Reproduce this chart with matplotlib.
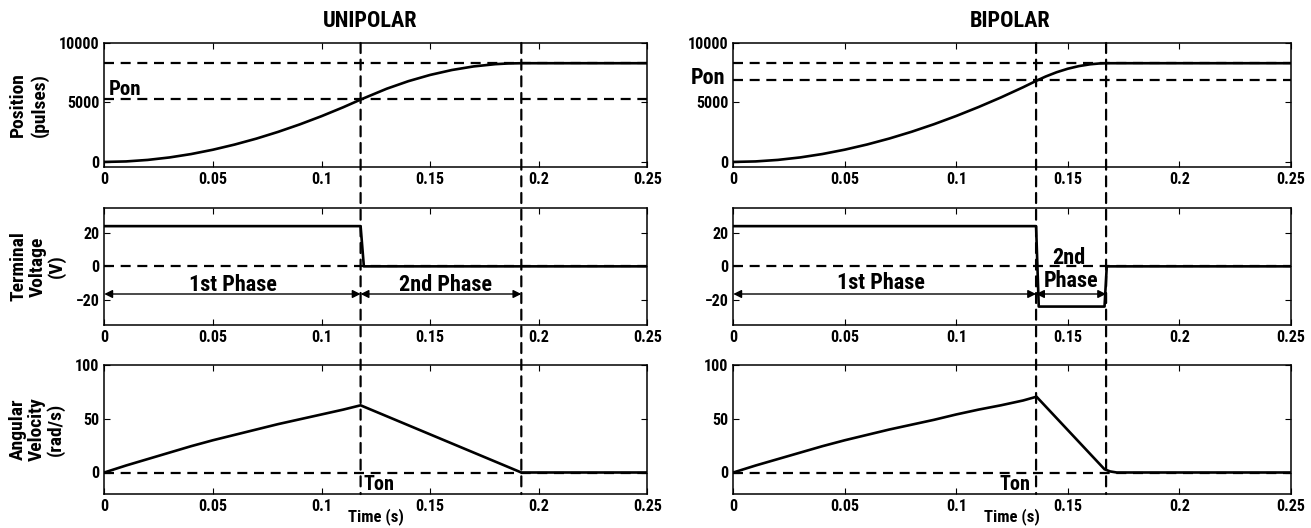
import matplotlib
matplotlib.use("Agg")
import matplotlib.pyplot as plt
from matplotlib.patches import ConnectionPatch
from matplotlib import font_manager

# ---------------- data ----------------
t_pos_uni = [0, 0.01, 0.02, 0.03, 0.04, 0.05, 0.06, 0.07, 0.08, 0.09, 0.10, 0.11, 0.118,
             0.13, 0.14, 0.15, 0.16, 0.17, 0.18, 0.186, 0.192, 0.25]
pos_uni = [0, 43, 170, 377, 664, 1027, 1461, 1960, 2527, 3157, 3847, 4597, 5243,
           6154, 6791, 7315, 7728, 8030, 8220, 8280, 8300, 8300]

t_pos_bi = [0, 0.01, 0.02, 0.03, 0.04, 0.05, 0.06, 0.07, 0.08, 0.09, 0.10, 0.11, 0.12, 0.13, 0.136,
            0.14, 0.145, 0.15, 0.155, 0.16, 0.164, 0.168, 0.172, 0.25]
pos_bi = [0, 44, 171, 379, 667, 1032, 1467, 1970, 2539, 3172, 3866, 4616, 5420, 6281, 6830,
          7175, 7541, 7835, 8057, 8208, 8277, 8300, 8300, 8300]

t_volt_uni = [0, 0.118, 0.1195, 0.25]
volt_uni = [24, 24, 0, 0]
t_volt_bi = [0, 0.1358, 0.137, 0.1665, 0.1675, 0.25]
volt_bi = [24, 24, -24, -24, 0, 0]

t_vel_uni = [0, 0.01, 0.02, 0.03, 0.04, 0.05, 0.06, 0.07, 0.08, 0.09, 0.10, 0.11, 0.118, 0.192, 0.25]
vel_uni = [0, 6.5, 12.5, 18.5, 24.5, 30, 35, 40, 45, 49.5, 54, 58.5, 62.5, 0, 0]
t_vel_bi = [0, 0.01, 0.02, 0.03, 0.04, 0.05, 0.06, 0.07, 0.08, 0.09, 0.10, 0.11, 0.12, 0.13, 0.136,
            0.1665, 0.169, 0.172, 0.25]
vel_bi = [0, 6.5, 12.5, 18.5, 24.5, 30, 35, 40, 44.5, 49, 54, 58.5, 62.5, 67, 70.5, 3, 1, 0, 0]

ton_uni, tend_uni = 0.118, 0.192
ton_bi, tend_bi = 0.1358, 0.1672
pfinal_uni, pon_uni = 8300, 5250
pfinal_bi, pon_bi = 8300, 6850

xticks = [0, 0.05, 0.1, 0.15, 0.2, 0.25]
xticklabels = ["0", "0.05", "0.1", "0.15", "0.2", "0.25"]
pos_ticks = [0, 5000, 10000]
volt_ticks = [-20, 0, 20]
vel_ticks = [0, 50, 100]

# ---------------- font: prefer a condensed bold sans ----------------
entries = font_manager.fontManager.ttflist
def has(name, stretch=None):
    for f in entries:
        if f.name == name and (stretch is None or str(f.stretch) == stretch):
            return True
    return False

fam, stretch = "Liberation Sans", "normal"
for nm, st in [("Liberation Sans Narrow", None), ("Roboto Condensed", None),
               ("DejaVu Sans", "condensed"), ("Noto Sans", "condensed"),
               ("Open Sans Condensed", None), ("Open Sans", "condensed"),
               ("Noto Sans", "semi-condensed")]:
    if has(nm, st):
        fam = nm
        stretch = st if st else "normal"
        break

plt.rcParams["font.family"] = [fam, "DejaVu Sans"]
plt.rcParams["font.stretch"] = stretch
plt.rcParams["font.weight"] = "bold"

fig = plt.figure(figsize=(13.11, 5.28), dpi=100)

W, H = 1311.0, 528.0
def mk(x0, x1, ytop, ybot):
    return fig.add_axes([x0 / W, 1 - ybot / H, (x1 - x0) / W, (ybot - ytop) / H])

rows = [(43, 166.7), (207.7, 325), (365, 494)]
cols = [(104.3, 647.3), (733.3, 1290.7)]
axes = [[mk(c[0], c[1], r[0], r[1]) for r in rows] for c in cols]

LW = 1.9
DLW = 1.6
dash = (0, (4.5, 3))

def style(ax, yticks, ylim):
    ax.set_xlim(0, 0.25)
    ax.set_ylim(*ylim)
    ax.set_xticks(xticks)
    ax.set_xticklabels(xticklabels)
    ax.set_yticks(yticks)
    ax.tick_params(direction="in", length=4, width=0.8, top=True, right=True,
                   labelsize=11.5, pad=3.5)
    for lab in ax.get_xticklabels() + ax.get_yticklabels():
        lab.set_fontweight("bold")
    for s in ax.spines.values():
        s.set_linewidth(1.1)

pos_lim = (-400, 10000)
volt_lim = (-35, 35)
vel_lim = (-20, 100)

data = [
    dict(tp=t_pos_uni, p=pos_uni, tv=t_volt_uni, v=volt_uni, tw=t_vel_uni, w=vel_uni,
         ton=ton_uni, tend=tend_uni, pf=pfinal_uni, pon=pon_uni),
    dict(tp=t_pos_bi, p=pos_bi, tv=t_volt_bi, v=volt_bi, tw=t_vel_bi, w=vel_bi,
         ton=ton_bi, tend=tend_bi, pf=pfinal_bi, pon=pon_bi),
]

for ci, (col, d) in enumerate(zip(axes, data)):
    a0, a1, a2 = col
    style(a0, pos_ticks, pos_lim)
    style(a1, volt_ticks, volt_lim)
    style(a2, vel_ticks, vel_lim)

    a0.axhline(d["pf"], color="black", lw=DLW, ls=dash)
    a0.axhline(d["pon"], color="black", lw=DLW, ls=dash)
    a0.plot(d["tp"], d["p"], color="black", lw=LW)

    a1.axhline(0, color="black", lw=DLW, ls=dash)
    a1.plot(d["tv"], d["v"], color="black", lw=LW)

    a2.axhline(0, color="black", lw=DLW, ls=dash)
    a2.plot(d["tw"], d["w"], color="black", lw=LW)

    for xv in (d["ton"], d["tend"]):
        cp = ConnectionPatch(xyA=(xv, pos_lim[1]), coordsA=a0.transData,
                             xyB=(xv, vel_lim[0]), coordsB=a2.transData,
                             color="black", lw=DLW, ls=dash, zorder=5)
        fig.add_artist(cp)

    # phase arrows
    arrow_y = -16.5
    ap = dict(arrowstyle="<|-|>", color="black", lw=1.0, mutation_scale=12,
              shrinkA=0, shrinkB=0)
    a1.annotate("", xy=(0, arrow_y), xytext=(d["ton"], arrow_y), arrowprops=ap)
    a1.annotate("", xy=(d["ton"], arrow_y), xytext=(d["tend"], arrow_y), arrowprops=ap)

axu, axb = axes
# x labels placed explicitly so they stay inside the canvas
fig.text(376 / W, 1 - 516.5 / H, "Time (s)", ha="center", va="center", fontsize=12, fontweight="bold")
fig.text(1012 / W, 1 - 516.5 / H, "Time (s)", ha="center", va="center", fontsize=12, fontweight="bold")

# titles
fig.text(370 / W, 1 - 21 / H, "UNIPOLAR", ha="center", va="center", fontsize=16, fontweight="bold")
fig.text(1010 / W, 1 - 21 / H, "BIPOLAR", ha="center", va="center", fontsize=16, fontweight="bold")

# y labels (left column)
axu[0].set_ylabel("Position\n(pulses)", fontsize=14, fontweight="bold", labelpad=7, linespacing=1.25)
axu[1].set_ylabel("Terminal\nVoltage\n(V)", fontsize=14, fontweight="bold", labelpad=7, linespacing=1.05)
axu[2].set_ylabel("Angular\nVelocity\n(rad/s)", fontsize=14, fontweight="bold", labelpad=7, linespacing=1.05)

# annotations unipolar
axu[0].text(0.002, 6050, "Pon", fontsize=15, fontweight="bold", ha="left", va="center")
axu[1].text(0.059, -11.0, "1st Phase", fontsize=16, fontweight="bold", ha="center", va="center")
axu[1].text(0.157, -11.0, "2nd Phase", fontsize=16, fontweight="bold", ha="center", va="center")
axu[2].text(0.1195, -11.5, "Ton", fontsize=14.5, fontweight="bold", ha="left", va="center")

# annotations bipolar
axb[0].text(-0.0035, 7050, "Pon", fontsize=16, fontweight="bold", ha="right", va="center",
            clip_on=False)
axb[1].text(0.066, -10.0, "1st Phase", fontsize=16, fontweight="bold", ha="center", va="center")
axb[1].text(0.1505, 5.0, "2nd", fontsize=16, fontweight="bold", ha="center", va="center")
axb[1].text(0.1515, -8.5, "Phase", fontsize=16, fontweight="bold", ha="center", va="center")
axb[2].text(0.1335, -11.5, "Ton", fontsize=14.5, fontweight="bold", ha="right", va="center")

fig.savefig("out.png", dpi=100)
